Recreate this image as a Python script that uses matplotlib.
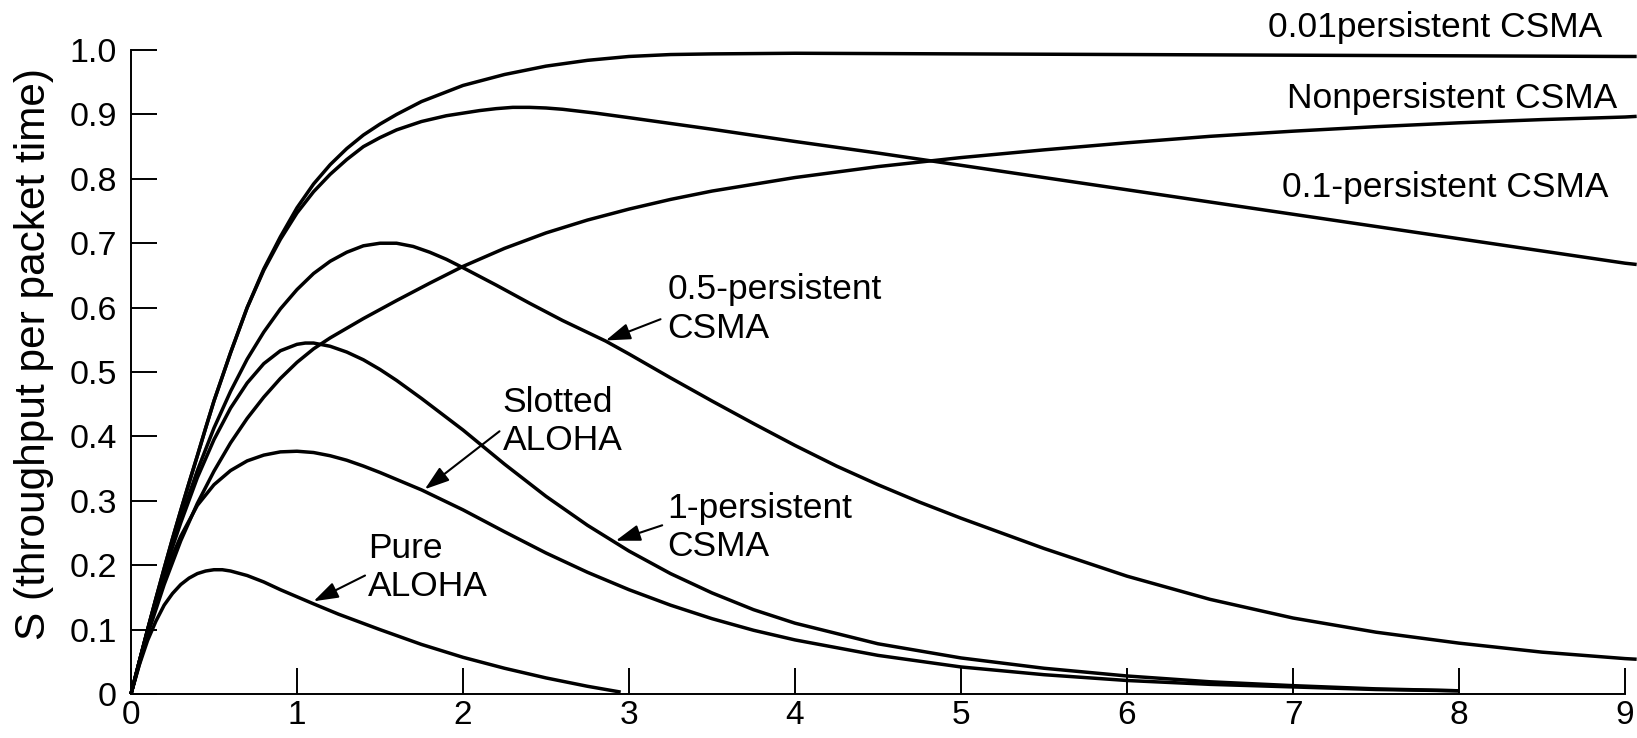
import matplotlib
matplotlib.use('Agg')
import matplotlib.pyplot as plt

# offered load G (x) and throughput S (y)
g_001 = [0, 0.05, 0.1, 0.15, 0.2, 0.25, 0.3, 0.35, 0.4, 0.45, 0.5, 0.6, 0.7, 0.8, 0.9, 1.0,
         1.1, 1.2, 1.3, 1.4, 1.5, 1.6, 1.75, 1.9, 2.0, 2.25, 2.5, 2.75, 3.0, 3.25, 3.5, 4,
         5, 6, 7, 8, 9, 9.07]
s_001 = [0, 0.05, 0.1, 0.148, 0.195, 0.241, 0.285, 0.328, 0.37, 0.413, 0.455, 0.53, 0.6,
         0.66, 0.71, 0.755, 0.792, 0.822, 0.847, 0.868, 0.885, 0.9, 0.92, 0.935, 0.945,
         0.962, 0.975, 0.984, 0.99, 0.993, 0.994, 0.995, 0.994, 0.993, 0.992, 0.991, 0.99,
         0.99]

g_non = [0, 0.05, 0.1, 0.15, 0.2, 0.25, 0.3, 0.35, 0.4, 0.45, 0.5, 0.6, 0.7, 0.8, 0.9, 1.0,
         1.1, 1.2, 1.3, 1.4, 1.5, 1.6, 1.75, 1.9, 2.0, 2.1, 2.2, 2.3, 2.4, 2.5, 2.6, 2.8,
         3.0, 3.5, 4, 4.5, 5, 5.5, 6, 6.5, 7, 7.5, 8, 8.5, 9, 9.07]
s_non = [0, 0.05, 0.1, 0.148, 0.195, 0.241, 0.285, 0.328, 0.37, 0.413, 0.455, 0.53, 0.6,
         0.658, 0.706, 0.747, 0.78, 0.807, 0.83, 0.85, 0.864, 0.876, 0.889, 0.898, 0.902,
         0.906, 0.909, 0.911, 0.911, 0.91, 0.908, 0.902, 0.895, 0.877, 0.858, 0.84, 0.821,
         0.802, 0.783, 0.764, 0.745, 0.726, 0.707, 0.688, 0.669, 0.667]

g_01 = [0, 0.1, 0.2, 0.3, 0.4, 0.5, 0.6, 0.7, 0.8, 0.9, 1.0, 1.1, 1.2, 1.3, 1.4, 1.5, 1.6,
        1.8, 2.0, 2.25, 2.5, 2.75, 3.0, 3.25, 3.5, 4.0, 4.5, 5.0, 5.5, 6.0, 6.5, 7.0, 7.5,
        8.0, 8.5, 9.0, 9.07]
s_01 = [0, 0.092, 0.17, 0.238, 0.296, 0.346, 0.39, 0.428, 0.461, 0.49, 0.515, 0.536, 0.553,
        0.568, 0.583, 0.597, 0.611, 0.638, 0.664, 0.692, 0.716, 0.736, 0.753, 0.768, 0.781,
        0.802, 0.819, 0.833, 0.845, 0.856, 0.866, 0.874, 0.881, 0.887, 0.892, 0.896, 0.897]

g_05 = [0, 0.05, 0.1, 0.15, 0.2, 0.25, 0.3, 0.4, 0.5, 0.6, 0.7, 0.8, 0.9, 1.0, 1.1, 1.2,
        1.3, 1.4, 1.5, 1.6, 1.7, 1.8, 1.9, 2.0, 2.2, 2.4, 2.6, 2.86, 3.0, 3.25, 3.5, 3.75,
        4.0, 4.25, 4.5, 4.75, 5.0, 5.5, 6.0, 6.5, 7.0, 7.5, 8.0, 8.5, 9.0, 9.07]
s_05 = [0, 0.05, 0.099, 0.146, 0.19, 0.233, 0.273, 0.347, 0.413, 0.47, 0.52, 0.562, 0.598,
        0.628, 0.653, 0.672, 0.686, 0.696, 0.7, 0.7, 0.695, 0.686, 0.675, 0.662, 0.635,
        0.607, 0.58, 0.548, 0.528, 0.491, 0.455, 0.42, 0.386, 0.354, 0.325, 0.298, 0.273,
        0.226, 0.183, 0.147, 0.118, 0.096, 0.079, 0.065, 0.055, 0.054]

g_1p = [0, 0.05, 0.1, 0.15, 0.2, 0.25, 0.3, 0.4, 0.5, 0.6, 0.7, 0.8, 0.9, 1.0, 1.05, 1.1,
        1.2, 1.3, 1.4, 1.5, 1.6, 1.75, 2.0, 2.25, 2.5, 2.75, 3.0, 3.25, 3.5, 3.75, 4.0,
        4.5, 5.0, 5.5, 6.0, 6.5, 7.0, 7.5, 8.0]
s_1p = [0, 0.05, 0.098, 0.144, 0.187, 0.228, 0.266, 0.336, 0.395, 0.444, 0.483, 0.513,
        0.533, 0.543, 0.545, 0.545, 0.54, 0.531, 0.519, 0.504, 0.487, 0.459, 0.41, 0.357,
        0.307, 0.262, 0.222, 0.187, 0.157, 0.131, 0.11, 0.078, 0.056, 0.04, 0.028, 0.019,
        0.013, 0.008, 0.005]

g_slot = [0, 0.05, 0.1, 0.15, 0.2, 0.25, 0.3, 0.4, 0.5, 0.6, 0.7, 0.8, 0.9, 1.0, 1.1, 1.2,
          1.3, 1.4, 1.5, 1.75, 2.0, 2.25, 2.5, 2.75, 3.0, 3.25, 3.5, 3.75, 4.0, 4.5, 5.0,
          5.5, 6.0, 6.5, 7.0, 7.5, 8.0]
s_slot = [0, 0.05, 0.097, 0.14, 0.18, 0.215, 0.245, 0.293, 0.325, 0.347, 0.362, 0.371,
          0.376, 0.377, 0.375, 0.37, 0.363, 0.354, 0.344, 0.317, 0.286, 0.252, 0.219, 0.189,
          0.162, 0.138, 0.117, 0.099, 0.084, 0.06, 0.042, 0.03, 0.021, 0.015, 0.011, 0.007,
          0.005]

g_pure = [0, 0.05, 0.1, 0.15, 0.2, 0.25, 0.3, 0.35, 0.4, 0.45, 0.5, 0.55, 0.6, 0.7, 0.8,
          0.9, 1.0, 1.1, 1.25, 1.5, 1.75, 2.0, 2.25, 2.5, 2.75, 2.95]
s_pure = [0, 0.045, 0.083, 0.113, 0.138, 0.156, 0.17, 0.18, 0.187, 0.191, 0.193, 0.193,
          0.191, 0.184, 0.174, 0.162, 0.151, 0.14, 0.124, 0.1, 0.077, 0.057, 0.04, 0.025,
          0.012, 0.003]

x_ticks = [0, 1, 2, 3, 4, 5, 6, 7, 8, 9]
y_ticks = [0, 0.1, 0.2, 0.3, 0.4, 0.5, 0.6, 0.7, 0.8, 0.9, 1.0]
y_tick_labels = ['0', '0.1', '0.2', '0.3', '0.4', '0.5', '0.6', '0.7', '0.8', '0.9', '1.0']

plt.rcParams['font.family'] = ['Liberation Sans', 'DejaVu Sans']

fig = plt.figure(figsize=(16.37, 7.38), dpi=100)
ax = fig.add_axes([0.08, 0.0596, 0.9198, 0.8726])

lw = 2.5
for g, s in [(g_001, s_001), (g_non, s_non), (g_01, s_01), (g_05, s_05),
             (g_1p, s_1p), (g_slot, s_slot), (g_pure, s_pure)]:
    ax.plot(g, s, color='black', lw=lw, solid_capstyle='butt', solid_joinstyle='round',
            clip_on=False)

ax.set_xlim(0, 9.07)
ax.set_ylim(0, 1.0)
ax.spines['top'].set_visible(False)
ax.spines['right'].set_visible(False)
ax.spines['bottom'].set_bounds(0, 9)
for sp in ('left', 'bottom'):
    ax.spines[sp].set_linewidth(1.4)

ax.set_xticks(x_ticks)
ax.set_xticklabels([str(v) for v in x_ticks])
ax.set_yticks(y_ticks)
ax.set_yticklabels(y_tick_labels)
ax.tick_params(direction='in', length=19, width=1.4, labelsize=24.5, pad=10)
ax.tick_params(axis='x', labelsize=24, pad=4)

fig.text(0.021, 0.52, 'S (throughput per packet time)', fontsize=30.5, rotation=90,
         ha='center', va='center')

fs = 25.5
ax.text(8.86, 1.035, '0.01persistent CSMA', fontsize=fs, ha='right', va='center', clip_on=False)
ax.text(8.95, 0.925, 'Nonpersistent CSMA', fontsize=fs, ha='right', va='center')
ax.text(8.9, 0.787, '0.1-persistent CSMA', fontsize=fs, ha='right', va='center')

ls = 1.2
ax.text(3.23, 0.598, '0.5-persistent\nCSMA', fontsize=fs, ha='left', va='center', linespacing=ls)
ax.text(2.24, 0.423, 'Slotted\nALOHA', fontsize=fs, ha='left', va='center', linespacing=ls)
ax.text(3.23, 0.258, '1-persistent\nCSMA', fontsize=fs, ha='left', va='center', linespacing=ls)
ax.text(1.43, 0.197, 'Pure\nALOHA', fontsize=fs, ha='left', va='center', linespacing=ls)

arrow = dict(arrowstyle='-|>,head_length=0.75,head_width=0.25', color='black', lw=1.5,
             shrinkA=0, shrinkB=0, mutation_scale=20)
ax.annotate('', xy=(2.86, 0.549), xytext=(3.19, 0.582), arrowprops=arrow)
ax.annotate('', xy=(1.77, 0.318), xytext=(2.22, 0.408), arrowprops=arrow)
ax.annotate('', xy=(2.92, 0.238), xytext=(3.2, 0.262), arrowprops=arrow)
ax.annotate('', xy=(1.10, 0.144), xytext=(1.41, 0.184), arrowprops=arrow)

fig.savefig('out.png', dpi=100)
